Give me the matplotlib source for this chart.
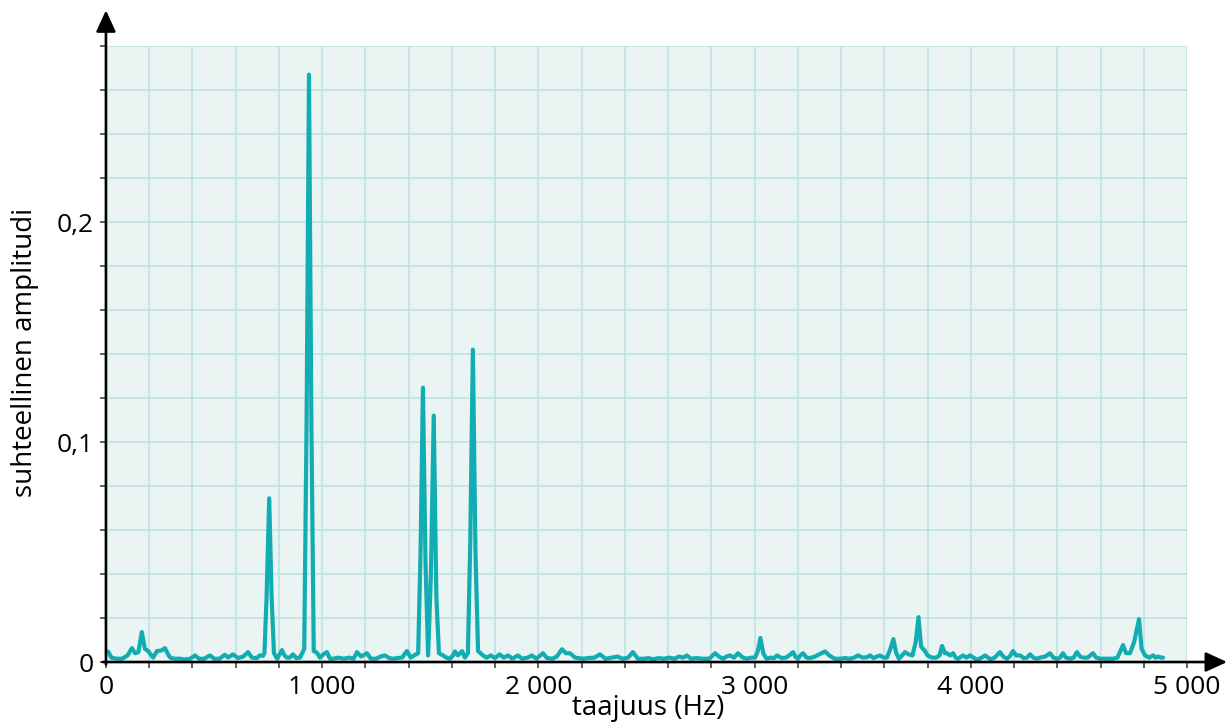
import matplotlib
matplotlib.use("Agg")
import matplotlib.pyplot as plt
from matplotlib.ticker import MultipleLocator, FixedLocator, FixedFormatter

# spectrum (Hz, relative amplitude)
freq_hz = [
    0, 12, 25, 50, 75, 100, 120, 135, 150, 166, 180, 195, 218, 236, 255, 273,
    290, 300, 320, 342, 365, 390, 412, 430, 455, 481, 500, 525, 550, 565, 587,
    610, 635, 657, 675, 698, 712, 726, 733, 743, 755, 766, 777, 792, 814, 826,
    837, 851, 865, 880, 897, 910, 917, 928, 939, 950, 961, 976, 990, 1005,
    1022, 1036, 1050, 1075, 1100, 1125, 1145, 1161, 1180, 1207, 1225, 1250,
    1270, 1290, 1310, 1330, 1346, 1370, 1392, 1410, 1425, 1444, 1455, 1466,
    1478, 1490, 1503, 1516, 1528, 1540, 1559, 1575, 1591, 1605, 1614, 1628,
    1647, 1660, 1674, 1685, 1697, 1709, 1721, 1744, 1760, 1780, 1800, 1820,
    1840, 1860, 1880, 1905, 1925, 1950, 1970, 1990, 2021, 2040, 2065, 2085,
    2109, 2128, 2146, 2170, 2206, 2230, 2260, 2285, 2310, 2340, 2365, 2390,
    2415, 2437, 2460, 2490, 2510, 2530, 2555, 2580, 2605, 2630, 2650, 2670,
    2687, 2705, 2730, 2760, 2790, 2817, 2835, 2854, 2870, 2886, 2905, 2923,
    2945, 2965, 2985, 3002, 3015, 3027, 3040, 3055, 3075, 3090, 3104, 3125,
    3145, 3160, 3178, 3190, 3201, 3212, 3224, 3240, 3256, 3280, 3305, 3326,
    3345, 3370, 3395, 3420, 3440, 3460, 3478, 3500, 3520, 3534, 3550, 3566,
    3580, 3597, 3612, 3628, 3642, 3655, 3668, 3682, 3696, 3712, 3730, 3745,
    3758, 3770, 3788, 3800, 3820, 3840, 3855, 3867, 3880, 3890, 3905, 3918,
    3930, 3941, 3964, 3980, 3996, 4012, 4029, 4050, 4066, 4080, 4089, 4110,
    4135, 4150, 4167, 4180, 4195, 4210, 4228, 4245, 4260, 4274, 4290, 4306,
    4320, 4345, 4366, 4382, 4399, 4413, 4426, 4440, 4459, 4475, 4491, 4505,
    4519, 4540, 4565, 4580, 4598, 4620, 4640, 4658, 4678, 4692, 4704, 4718,
    4736, 4755, 4778, 4790, 4806, 4825, 4843, 4855, 4866, 4880, 4889,
]
amplitude = [
    0.005, 0.0045, 0.002, 0.0015, 0.0015, 0.003, 0.0063, 0.004, 0.0045, 0.0136,
    0.006, 0.005, 0.002, 0.005, 0.0052, 0.0063, 0.003, 0.0018, 0.0015, 0.0015,
    0.0012, 0.0015, 0.003, 0.0015, 0.0015, 0.003, 0.0015, 0.0015, 0.0033,
    0.002, 0.0035, 0.0018, 0.0025, 0.0045, 0.002, 0.0018, 0.003, 0.0028,
    0.004, 0.03, 0.0744, 0.03, 0.004, 0.0015, 0.0054, 0.003, 0.002, 0.002,
    0.0035, 0.0018, 0.002, 0.0045, 0.006, 0.11, 0.267, 0.11, 0.005, 0.0042,
    0.002, 0.0035, 0.0045, 0.0015, 0.0015, 0.002, 0.0015, 0.002, 0.0015,
    0.0045, 0.0025, 0.004, 0.0015, 0.0015, 0.0025, 0.003, 0.0018, 0.0015,
    0.0018, 0.002, 0.005, 0.002, 0.003, 0.004, 0.05, 0.1247, 0.045, 0.003,
    0.04, 0.112, 0.03, 0.004, 0.003, 0.002, 0.0015, 0.003, 0.0048, 0.003,
    0.005, 0.002, 0.004, 0.055, 0.142, 0.05, 0.005, 0.003, 0.002, 0.003,
    0.0018, 0.0035, 0.002, 0.003, 0.0015, 0.003, 0.0015, 0.002, 0.003,
    0.0015, 0.004, 0.0018, 0.0015, 0.0025, 0.0058, 0.004, 0.004, 0.002,
    0.0015, 0.0018, 0.002, 0.0035, 0.0015, 0.002, 0.0025, 0.0015, 0.002,
    0.0045, 0.0015, 0.0015, 0.0018, 0.0012, 0.0018, 0.0015, 0.002, 0.0015,
    0.0025, 0.002, 0.003, 0.0015, 0.0018, 0.0015, 0.0015, 0.004, 0.0025,
    0.0015, 0.0025, 0.003, 0.002, 0.004, 0.002, 0.0015, 0.002, 0.002, 0.005,
    0.0109, 0.004, 0.0015, 0.002, 0.0018, 0.003, 0.0018, 0.002, 0.003,
    0.0045, 0.0022, 0.0015, 0.003, 0.004, 0.002, 0.0018, 0.0025, 0.0038,
    0.0048, 0.003, 0.0015, 0.0015, 0.0018, 0.0015, 0.002, 0.003, 0.002,
    0.0022, 0.003, 0.0018, 0.0025, 0.003, 0.002, 0.002, 0.006, 0.0104, 0.004,
    0.0015, 0.003, 0.0045, 0.0035, 0.003, 0.009, 0.0204, 0.007, 0.005, 0.003,
    0.002, 0.002, 0.003, 0.0073, 0.004, 0.004, 0.003, 0.004, 0.002, 0.0015,
    0.003, 0.002, 0.003, 0.002, 0.001, 0.002, 0.003, 0.002, 0.0012, 0.002,
    0.0045, 0.0025, 0.0015, 0.0025, 0.005, 0.003, 0.003, 0.0018, 0.002,
    0.0035, 0.002, 0.0015, 0.002, 0.0025, 0.004, 0.002, 0.0015, 0.002, 0.004,
    0.002, 0.0015, 0.002, 0.0045, 0.0025, 0.002, 0.002, 0.004, 0.002, 0.0015,
    0.0015, 0.0015, 0.0015, 0.002, 0.005, 0.0077, 0.004, 0.004, 0.009, 0.0195,
    0.006, 0.003, 0.002, 0.003, 0.002, 0.0025, 0.002, 0.002,
]

x_major = [0, 1000, 2000, 3000, 4000, 5000]
x_labels = ["0", "1 000", "2 000", "3 000", "4 000", "5 000"]
y_major = [0, 0.1, 0.2]
y_labels = ["0", "0,1", "0,2"]
x_label = "taajuus (Hz)"
y_label = "suhteellinen amplitudi"

line_color = "#12adb2"
grid_color = "#bfe2e5"
bg_color = "#eaf4f3"

plt.rcParams["font.family"] = ["Open Sans", "DejaVu Sans"]

fig = plt.figure(figsize=(12.32, 7.24), dpi=100)
ax = fig.add_axes([0.0860, 0.0856, 0.8775, 0.8508])
ax.set_facecolor(bg_color)

ax.plot(freq_hz, amplitude, color=line_color, lw=3.0,
        solid_joinstyle="round", solid_capstyle="round", zorder=3)

ax.set_xlim(0, 5000)
ax.set_ylim(0, 0.28)

ax.xaxis.set_major_locator(FixedLocator(x_major))
ax.xaxis.set_major_formatter(FixedFormatter(x_labels))
ax.xaxis.set_minor_locator(MultipleLocator(200))
ax.yaxis.set_major_locator(FixedLocator(y_major))
ax.yaxis.set_major_formatter(FixedFormatter(y_labels))
ax.yaxis.set_minor_locator(MultipleLocator(0.02))

ax.grid(which="both", color=grid_color, lw=1.2, zorder=0)
ax.set_axisbelow(True)

ax.tick_params(which="both", direction="out", length=4.5, width=1.1,
               color="#333333", labelsize=19)
ax.tick_params(axis="x", pad=5)
ax.tick_params(axis="y", pad=4)

for s in ax.spines.values():
    s.set_visible(False)

# axes drawn as arrows running past the grid
arrow = dict(arrowstyle="-|>,head_length=0.65,head_width=0.3",
             lw=1.9, color="black", mutation_scale=20, shrinkA=0, shrinkB=0)
ax.annotate("", xy=(1.037, 0), xytext=(-0.003, 0), xycoords="axes fraction",
            arrowprops=arrow, annotation_clip=False)
ax.annotate("", xy=(0, 1.058), xytext=(0, -0.004), xycoords="axes fraction",
            arrowprops=arrow, annotation_clip=False)

ax.set_xlabel(x_label, fontsize=20, va="baseline")
ax.xaxis.set_label_coords(0.502, -0.086)
ax.set_ylabel(y_label, fontsize=20, va="center")
ax.yaxis.set_label_coords(-0.075, 0.503)

fig.savefig("out.png", dpi=100)
